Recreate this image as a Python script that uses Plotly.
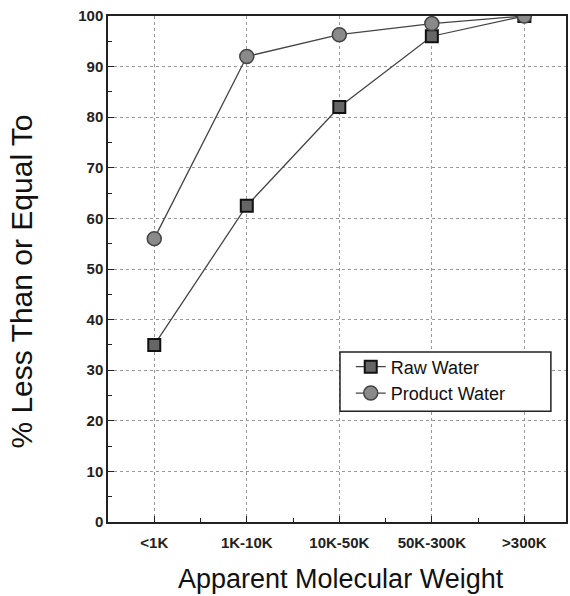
import plotly.graph_objects as go

categories = ["<1K", "1K-10K", "10K-50K", "50K-300K", ">300K"]
raw_water = [35, 62.5, 82, 96, 100]
product_water = [56, 92, 96.3, 98.5, 100]

fig = go.Figure()
fig.add_trace(go.Scatter(
    x=list(range(len(categories))), y=raw_water, mode="lines+markers", name="Raw Water",
    line=dict(color="#444444", width=1.3),
    marker=dict(symbol="square", size=12, color="#666666", line=dict(color="#111111", width=2)),
))
fig.add_trace(go.Scatter(
    x=list(range(len(categories))), y=product_water, mode="lines+markers", name="Product Water",
    line=dict(color="#444444", width=1.3),
    marker=dict(symbol="circle", size=14, color="#8a8a8a", line=dict(color="#444444", width=1.5)),
))

# legend frame (paper coords of plot area)
fig.add_shape(type="rect", xref="paper", yref="paper",
              x0=0.5065, x1=0.967, y0=0.219, y1=0.336,
              line=dict(color="#222222", width=1.5), fillcolor="white", layer="above")

fig.add_annotation(text="% Less Than or Equal To", xref="paper", yref="paper",
                   x=-0.189, y=0.476, xanchor="center", yanchor="middle", textangle=-90,
                   showarrow=False, font=dict(size=30, color="#111111"))
fig.add_annotation(text="Apparent Molecular Weight", xref="paper", yref="paper",
                   x=0.508, y=-0.113, xanchor="center", yanchor="middle",
                   showarrow=False, font=dict(size=27, color="#111111"))

fig.update_layout(
    width=570, height=596,
    margin=dict(l=108, r=2, t=16, b=74),
    paper_bgcolor="white", plot_bgcolor="white",
    font=dict(family="Liberation Sans, Arial", color="#111111"),
    showlegend=True,
    legend=dict(
        x=0.530, y=0.343, xanchor="left", yanchor="top",
        bgcolor="rgba(0,0,0,0)", borderwidth=0,
        font=dict(size=18, color="#111111"),
        tracegroupgap=2,
    ),
    xaxis=dict(
        tickmode="array", tickvals=list(range(len(categories))), ticktext=categories,
        range=[-0.5, 4.45],
        showline=True, linecolor="#222222", linewidth=1.5, mirror=True,
        showgrid=True, gridcolor="#999999", griddash="dot", gridwidth=1,
        ticks="inside", ticklen=6, tickcolor="#222222",
        tickfont=dict(size=15, family="Liberation Sans, Arial", color="#222222", weight="bold"),
        ticklabelstandoff=6,
        zeroline=False,
        minor=dict(tickvals=[0.5, 1.5, 2.5, 3.5], ticks="inside", ticklen=4, tickcolor="#222222", showgrid=False),
    ),
    yaxis=dict(
        range=[0, 100], dtick=10,
        showline=True, linecolor="#222222", linewidth=1.5, mirror=True,
        showgrid=True, gridcolor="#999999", griddash="dot", gridwidth=1,
        ticks="inside", ticklen=6, tickcolor="#222222",
        tickfont=dict(size=15, family="Liberation Sans, Arial", color="#222222", weight="bold"),
        zeroline=False,
        minor=dict(dtick=5, ticks="inside", ticklen=4, tickcolor="#222222", showgrid=False),
    ),
)

fig.write_html("out.html")
